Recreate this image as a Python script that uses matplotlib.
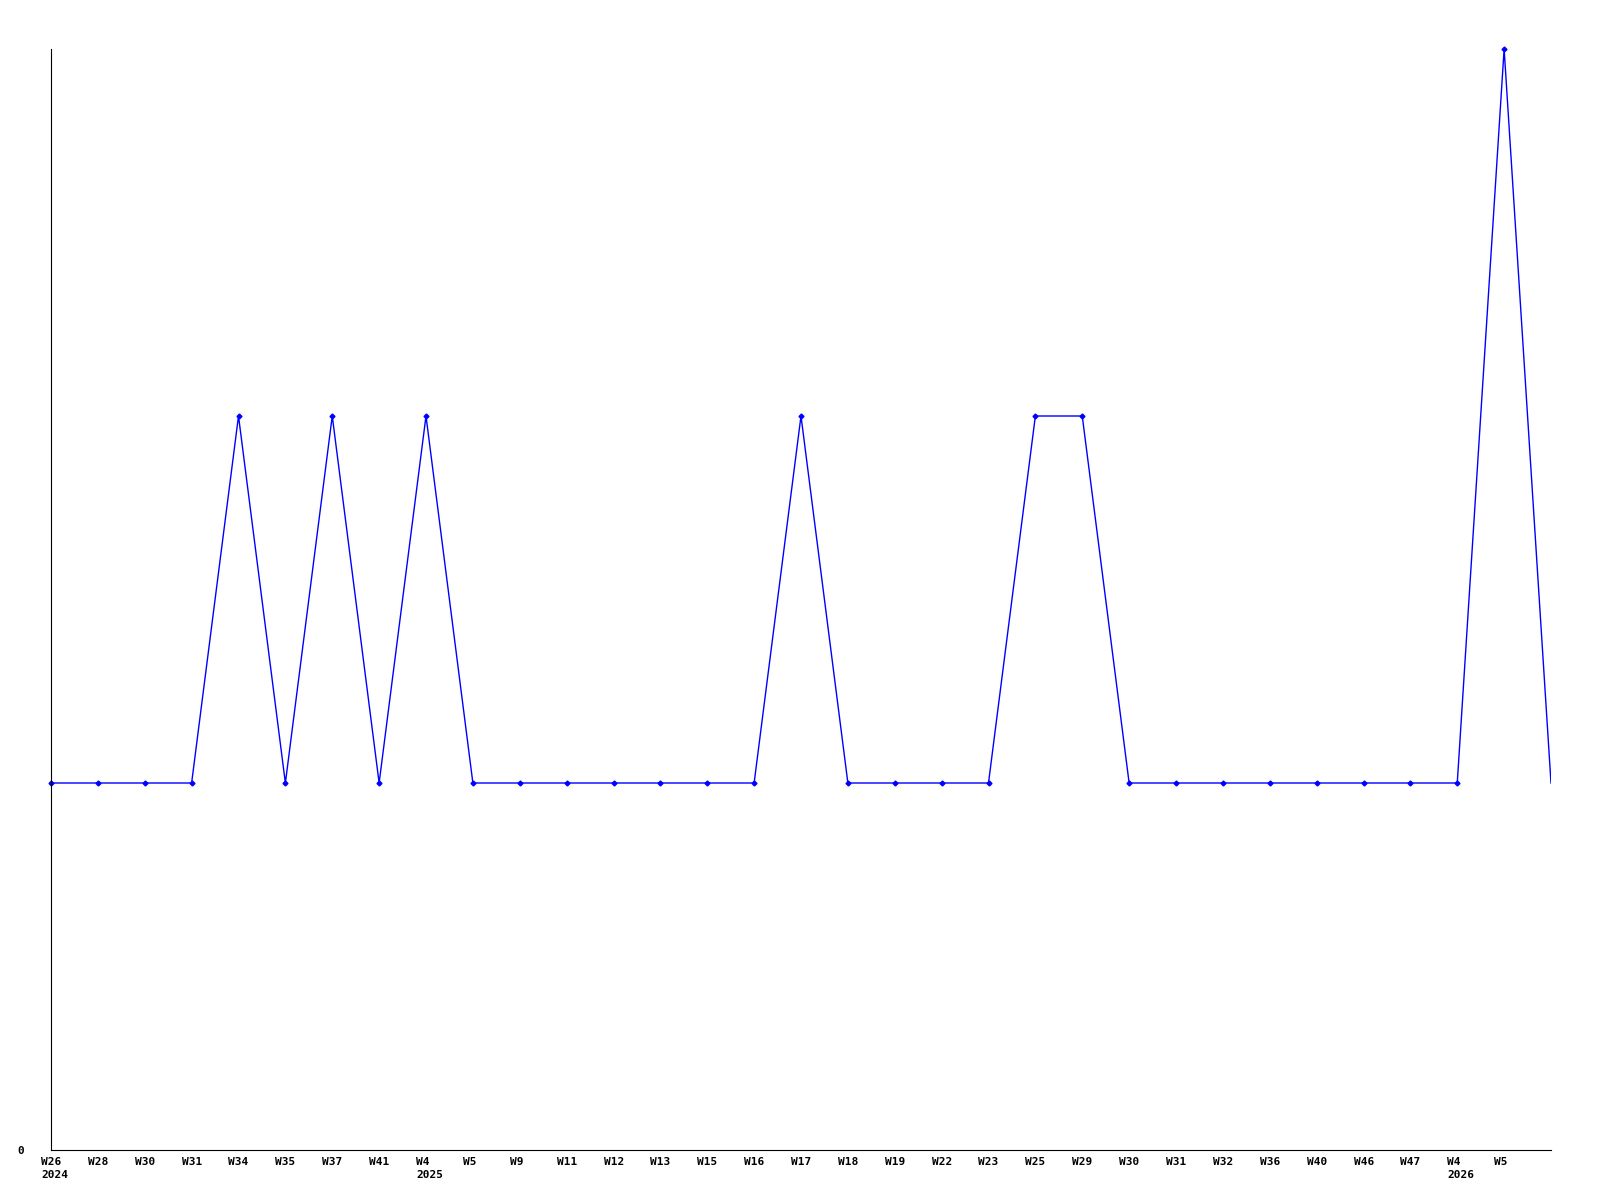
import matplotlib
matplotlib.use("Agg")
import matplotlib.pyplot as plt

# Semanas y valores
weeks = ["W26", "W28", "W30", "W31", "W34", "W35", "W37", "W41", "W4", "W5",
         "W9", "W11", "W12", "W13", "W15", "W16", "W17", "W18", "W19", "W22",
         "W23", "W25", "W29", "W30", "W31", "W32", "W36", "W40", "W46", "W47",
         "W4", "W5"]
years = {0: "2024", 8: "2025", 30: "2026"}
values = [1, 1, 1, 1, 2, 1, 2, 1, 2, 1,
          1, 1, 1, 1, 1, 1, 2, 1, 1, 1,
          1, 2, 2, 1, 1, 1, 1, 1, 1, 1,
          1, 3]
last_value = 1  # punto final sin etiqueta ni marcador

fig = plt.figure(figsize=(16, 12), dpi=100)
ax = fig.add_axes([51 / 1600, 50 / 1200, 1500 / 1600, 1101 / 1200])

x = list(range(len(values)))
ax.plot(x + [len(values)], values + [last_value], color="#0000ff", lw=1)
ax.plot(x, values, ls="none", marker="D", ms=2.5, color="#0000ff",
        clip_on=False)

ax.set_xlim(0, len(values))
ax.set_ylim(0, max(values))

for s in ("top", "right"):
    ax.spines[s].set_visible(False)

font = dict(family="DejaVu Sans Mono", weight="bold", size=8)

# etiquetas del eje x: empiezan 10 px a la izquierda de cada punto
ax.set_xticks([])
for i, w in enumerate(weeks):
    txt = w + ("\n" + years[i] if i in years else "")
    ax.annotate(txt, xy=(i, 0), xycoords=("data", "axes fraction"),
                xytext=(-7.2, -5), textcoords="offset points",
                ha="left", va="top", linespacing=1.35, **font)

ax.set_yticks([0])
ax.set_yticklabels(["0"], **font)
ax.tick_params(axis="y", length=0, pad=19)

fig.savefig("out.png", dpi=100, facecolor="white")
